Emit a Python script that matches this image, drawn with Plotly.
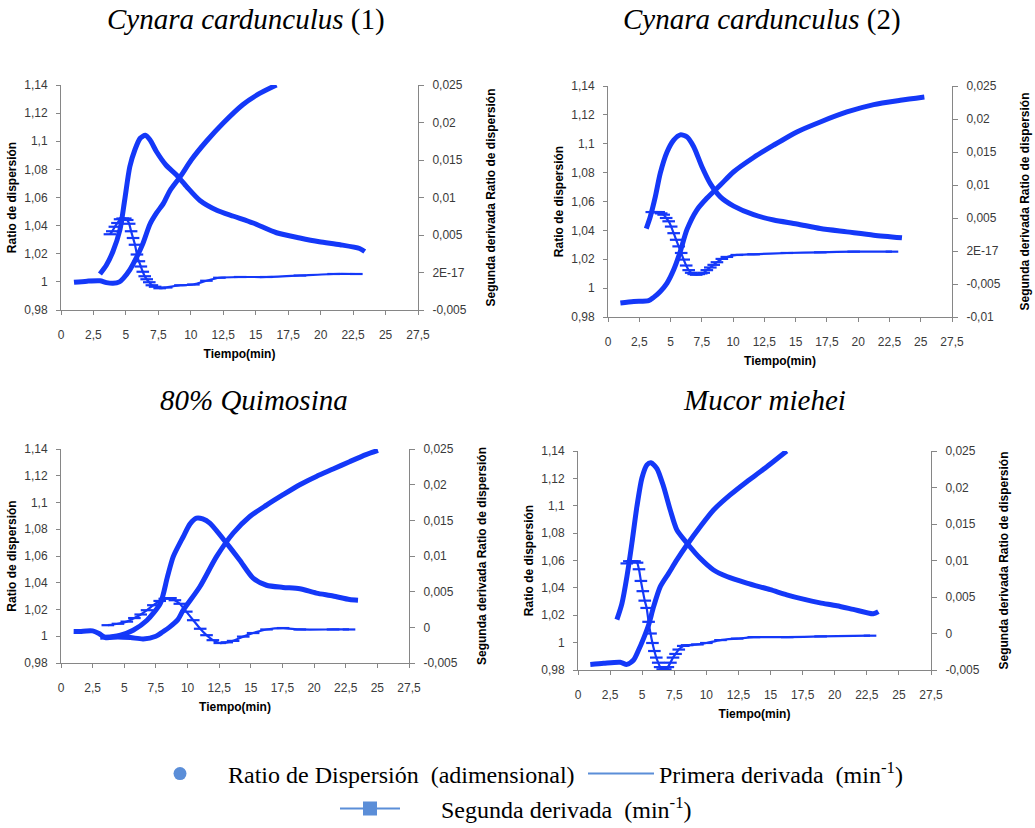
import plotly.graph_objects as go

W, H = 1035, 828

# ---------------- tick labels ----------------
X_TICKS = [0, 2.5, 5, 7.5, 10, 12.5, 15, 17.5, 20, 22.5, 25, 27.5]
X_TICKTEXT = ["0", "2,5", "5", "7,5", "10", "12,5", "15", "17,5", "20", "22,5", "25", "27,5"]
LEFT_TICKS = [0.98, 1.0, 1.02, 1.04, 1.06, 1.08, 1.1, 1.12, 1.14]
LEFT_TICKTEXT = ["0,98", "1", "1,02", "1,04", "1,06", "1,08", "1,1", "1,12", "1,14"]
RIGHT_TICKS_A = [-0.005, 0, 0.005, 0.01, 0.015, 0.02, 0.025]
RIGHT_TICKS_B = [-0.01, -0.005, 0, 0.005, 0.01, 0.015, 0.02, 0.025]
RIGHT_TICKTEXT_P1 = ["-0,005", "2E-17", "0,005", "0,01", "0,015", "0,02", "0,025"]
RIGHT_TICKTEXT_P2 = ["-0,01", "-0,005", "2E-17", "0,005", "0,01", "0,015", "0,02", "0,025"]
RIGHT_TICKTEXT_P34 = ["-0,005", "0", "0,005", "0,01", "0,015", "0,02", "0,025"]

PANEL_TITLES = ["<i>Cynara cardunculus</i> (1)", "<i>Cynara cardunculus</i> (2)",
                "<i>80% Quimosina</i>", "<i>Mucor miehei</i>"]

# ---------------- Panel 1: Cynara cardunculus (1) ----------------
p1_ratio_t = [1.0, 2.0, 3.0, 3.5, 4.0, 4.5, 4.8, 5.3, 5.8, 6.3, 6.85, 7.36, 7.9, 8.4, 9.2, 10.06, 11.2, 12.5, 14.0, 15.3, 16.6]
p1_ratio = [0.9997, 1.0005, 1.0008, 0.9995, 0.999, 1.0, 1.0025, 1.0085, 1.017, 1.027, 1.041, 1.049, 1.056, 1.065, 1.075, 1.087, 1.1, 1.113, 1.126, 1.134, 1.14]
p1_d1_t = [3.0, 3.5, 4.0, 4.54, 4.9, 5.3, 5.7, 6.1, 6.5, 6.85, 7.36, 8.1, 8.9, 9.7, 10.7, 12.0, 13.3, 14.8, 16.6, 18.4, 19.9, 21.5, 23.0, 23.4]
p1_d1 = [-0.0002, 0.001, 0.0028, 0.0057, 0.0096, 0.0141, 0.0164, 0.0179, 0.0183, 0.0177, 0.0161, 0.0143, 0.013, 0.0114, 0.0096, 0.0083, 0.0075, 0.0066, 0.0053, 0.0046, 0.0041, 0.0037, 0.0032, 0.0028]
p1_d2_t = [3.77, 3.95, 4.15, 4.35, 4.55, 4.75, 4.95, 5.1, 5.25, 5.4, 5.55, 5.7, 5.85, 6.0, 6.15, 6.3, 6.45, 6.6, 6.8, 7.0, 7.25, 7.6, 8.1, 9.2, 10.2, 11.2, 12.2, 13.8, 15.8, 18.4, 21.0, 22.75]
p1_d2 = [0.0051, 0.0055, 0.0061, 0.0066, 0.0071, 0.0072, 0.0072, 0.007, 0.0065, 0.0055, 0.0046, 0.0037, 0.0024, 0.0015, 0.0008, 0.0001, -0.0005, -0.0009, -0.0013, -0.0017, -0.0019, -0.0021, -0.002, -0.0017, -0.0016, -0.0011, -0.0007, -0.0006, -0.0006, -0.0004, -0.0002, -0.0002]

# ---------------- Panel 2: Cynara cardunculus (2) ----------------
p2_ratio_t = [0.99, 2.05, 3.25, 3.65, 4.18, 4.72, 5.25, 5.78, 6.3, 7.1, 7.9, 8.98, 10.05, 11.64, 13.24, 15.1, 16.97, 19.1, 21.24, 23.37, 25.29]
p2_ratio = [0.9897, 0.9908, 0.9913, 0.9936, 0.9977, 1.0035, 1.0127, 1.0254, 1.0403, 1.0541, 1.0622, 1.0714, 1.0806, 1.0905, 1.099, 1.1082, 1.1151, 1.122, 1.1271, 1.1301, 1.1324]
p2_d1_t = [3.06, 3.38, 3.78, 4.18, 4.72, 5.25, 5.78, 6.3, 6.85, 7.5, 8.18, 8.98, 10.05, 11.64, 13.24, 15.1, 16.97, 19.1, 21.24, 23.5]
p2_d1 = [0.0034, 0.0052, 0.0082, 0.0118, 0.015, 0.0168, 0.0176, 0.0173, 0.0158, 0.0128, 0.0102, 0.0082, 0.0068, 0.0055, 0.0047, 0.0041, 0.0034, 0.0029, 0.0024, 0.002]
p2_d2_t = [3.5, 3.8, 4.05, 4.25, 4.45, 4.65, 4.85, 5.05, 5.25, 5.45, 5.65, 5.85, 6.05, 6.25, 6.45, 6.65, 6.85, 7.05, 7.25, 7.45, 7.65, 7.9, 8.18, 8.45, 8.71, 9.1, 9.5, 10.3, 11.64, 14.3, 16.97, 19.64, 22.7]
p2_d2 = [0.0059, 0.0059, 0.0059, 0.0057, 0.0055, 0.005, 0.0045, 0.0037, 0.0027, 0.0017, 0.0007, -0.0003, -0.0013, -0.0022, -0.0029, -0.0033, -0.0035, -0.0036, -0.0035, -0.0034, -0.0033, -0.0029, -0.0025, -0.0021, -0.0017, -0.0012, -0.0009, -0.0006, -0.0005, -0.0003, -0.0002, -0.0001, -0.0001]

# ---------------- Panel 3: 80% Quimosina ----------------
p3_ratio_t = [1.0, 1.5, 2.0, 2.5, 3.0, 3.5, 4.5, 5.5, 6.5, 7.5, 8.0, 8.6, 9.2, 9.66, 10.97, 12.29, 13.6, 14.92, 16.24, 17.55, 18.87, 20.18, 21.5, 22.8, 24.1, 25.05]
p3_ratio = [1.0035, 1.0035, 1.004, 1.004, 1.002, 0.999, 0.9995, 0.999, 0.998, 1.0, 1.003, 1.007, 1.012, 1.0195, 1.037, 1.0595, 1.077, 1.0895, 1.098, 1.1058, 1.1133, 1.1195, 1.125, 1.1305, 1.1358, 1.139]
p3_d1_t = [3.1, 4.0, 4.7, 5.7, 6.8, 7.86, 8.4, 8.87, 9.66, 10.2, 10.71, 11.2, 11.76, 13.08, 14.13, 15.18, 16.24, 17.55, 18.87, 20.18, 21.5, 22.8, 23.47]
p3_d1 = [-0.0014, -0.0013, -0.0011, -0.0004, 0.001, 0.0034, 0.007, 0.0099, 0.0127, 0.0145, 0.0153, 0.0152, 0.0146, 0.0118, 0.0094, 0.0069, 0.0059, 0.0056, 0.0054, 0.0048, 0.0044, 0.0039, 0.0038]
p3_d2_t = [3.7, 4.5, 5.2, 5.8, 6.3, 6.8, 7.3, 7.8, 8.2, 8.65, 9.0, 9.39, 9.9, 10.45, 11.0, 11.5, 12.0, 12.55, 13.1, 13.6, 14.4, 15.18, 16.24, 17.55, 18.87, 21.5, 22.76]
p3_d2 = [0.0003, 0.0005, 0.0008, 0.0013, 0.0018, 0.0024, 0.0031, 0.0037, 0.004, 0.0041, 0.0038, 0.0033, 0.0022, 0.001, -0.0002, -0.0011, -0.0018, -0.0022, -0.0021, -0.0019, -0.0013, -0.0008, -0.0003, -0.0001, -0.0003, -0.0003, -0.0003]

# ---------------- Panel 4: Mucor miehei ----------------
p4_ratio_t = [0.96, 2.0, 3.29, 3.81, 4.33, 4.72, 5.11, 5.5, 5.89, 6.41, 7.06, 7.7, 8.48, 9.52, 10.56, 11.85, 13.15, 14.45, 16.26]
p4_ratio = [0.9841, 0.9849, 0.9856, 0.9841, 0.9873, 0.9946, 1.0031, 1.0129, 1.0263, 1.0409, 1.0506, 1.0604, 1.0713, 1.0847, 1.0969, 1.1079, 1.1176, 1.1266, 1.14]
p4_d1_t = [3.03, 3.42, 3.81, 4.2, 4.59, 4.98, 5.37, 5.68, 6.15, 6.67, 7.19, 7.7, 8.48, 9.52, 10.56, 11.6, 13.15, 14.97, 16.26, 17.56, 18.86, 20.16, 21.45, 23.0, 23.4]
p4_d1 = [0.0019, 0.0041, 0.0078, 0.0124, 0.0174, 0.0213, 0.0231, 0.0234, 0.0226, 0.0201, 0.0169, 0.0142, 0.0124, 0.0103, 0.0087, 0.0078, 0.0069, 0.006, 0.0053, 0.0047, 0.0042, 0.0038, 0.0033, 0.0027, 0.003]
p4_d2_t = [3.8, 4.0, 4.2, 4.4, 4.6, 4.75, 4.9, 5.05, 5.2, 5.35, 5.5, 5.65, 5.8, 5.95, 6.1, 6.25, 6.4, 6.6, 6.8, 7.0, 7.2, 7.4, 7.6, 7.85, 8.2, 8.5, 9.3, 10.0, 11.1, 12.4, 13.7, 16.3, 18.9, 22.75]
p4_d2 = [0.0096, 0.0099, 0.0099, 0.0099, 0.0097, 0.0088, 0.0072, 0.0058, 0.0045, 0.0035, 0.0016, 0.0, -0.0013, -0.0024, -0.0033, -0.004, -0.0046, -0.0049, -0.0049, -0.0046, -0.004, -0.0033, -0.0028, -0.0022, -0.0017, -0.0016, -0.0015, -0.0013, -0.0009, -0.0007, -0.0005, -0.0005, -0.0004, -0.0003]

LEGEND_NAMES = ["Ratio de Dispersión \u00a0(adimensional)",
                "Primera derivada \u00a0(min<sup>-1</sup>)",
                "\u00a0\u00a0\u00a0\u00a0\u00a0\u00a0Segunda derivada \u00a0(min<sup>-1</sup>)"]

panels = [
    dict(ratio=(p1_ratio_t, p1_ratio), d1=(p1_d1_t, p1_d1), d2=(p1_d2_t, p1_d2),
         rrange=[-0.005, 0.025], rticks=RIGHT_TICKS_A, rtext=RIGHT_TICKTEXT_P1),
    dict(ratio=(p2_ratio_t, p2_ratio), d1=(p2_d1_t, p2_d1), d2=(p2_d2_t, p2_d2),
         rrange=[-0.01, 0.025], rticks=RIGHT_TICKS_B, rtext=RIGHT_TICKTEXT_P2),
    dict(ratio=(p3_ratio_t, p3_ratio), d1=(p3_d1_t, p3_d1), d2=(p3_d2_t, p3_d2),
         rrange=[-0.005, 0.025], rticks=RIGHT_TICKS_A, rtext=RIGHT_TICKTEXT_P34),
    dict(ratio=(p4_ratio_t, p4_ratio), d1=(p4_d1_t, p4_d1), d2=(p4_d2_t, p4_d2),
         rrange=[-0.005, 0.025], rticks=RIGHT_TICKS_A, rtext=RIGHT_TICKTEXT_P34),
]

# pixel boxes of the plot areas: (left, right, top, bottom)
boxes = [(61, 418, 85, 310), (608, 952, 86, 317), (61, 409, 449, 663), (578, 931, 451, 670)]
title_pos = [(246, 20), (762, 20), (254, 400), (764, 400)]

BLUE = "#1438F8"
LEG_BLUE = "#5B8ED8"
AXIS_GREY = "#868686"
TICK_FONT = dict(family="Liberation Sans, Arial, sans-serif", size=12, color="#3a3a3a")
TITLE_FONT = dict(family="Liberation Sans, Arial, sans-serif", size=12, color="#000000")

fig = go.Figure()
layout = dict(width=W, height=H, margin=dict(l=0, r=0, t=0, b=0, autoexpand=False),
              paper_bgcolor="white", plot_bgcolor="white", annotations=[])

for i, p in enumerate(panels):
    k = i + 1
    xa = f"x{k}" if k > 1 else "x"
    yl_n = 2 * i + 1
    yr_n = 2 * i + 2
    yl = f"y{yl_n}" if yl_n > 1 else "y"
    yr = f"y{yr_n}"
    l, r, t, b = boxes[i]
    xdom = [l / W, r / W]
    ydom = [1 - b / H, 1 - t / H]

    fig.add_trace(go.Scatter(x=p["ratio"][0], y=p["ratio"][1], xaxis=xa, yaxis=yl,
                             mode="lines", line=dict(color=BLUE, width=5, shape="spline", smoothing=0.7),
                             showlegend=False, hoverinfo="skip"))
    fig.add_trace(go.Scatter(x=p["d1"][0], y=p["d1"][1], xaxis=xa, yaxis=yr,
                             mode="lines", line=dict(color=BLUE, width=5, shape="spline", smoothing=0.7),
                             showlegend=False, hoverinfo="skip"))
    fig.add_trace(go.Scatter(x=p["d2"][0], y=p["d2"][1], xaxis=xa, yaxis=yr,
                             mode="lines+markers", line=dict(color=BLUE, width=2.2, shape="spline", smoothing=0.6),
                             marker=dict(symbol="line-ew", size=9, line=dict(color=BLUE, width=2.2)),
                             showlegend=False, hoverinfo="skip", cliponaxis=False))

    axkey = "xaxis" if k == 1 else f"xaxis{k}"
    layout[axkey] = dict(domain=xdom, anchor=yl, range=[0, 27.5], tickvals=X_TICKS, ticktext=X_TICKTEXT,
                         showline=True, linecolor=AXIS_GREY, linewidth=1, ticks="outside", ticklen=4,
                         tickcolor=AXIS_GREY, showgrid=False, zeroline=False, tickfont=TICK_FONT,
                         ticklabelstandoff=10,
                         title=dict(text="<b>Tiempo(min)</b>", font=TITLE_FONT, standoff=8))
    ylkey = "yaxis" if yl_n == 1 else f"yaxis{yl_n}"
    layout[ylkey] = dict(domain=ydom, anchor=xa, range=[0.98, 1.14], tickvals=LEFT_TICKS,
                         ticktext=LEFT_TICKTEXT, showline=True, linecolor=AXIS_GREY, linewidth=1,
                         ticks="outside", ticklen=4, tickcolor=AXIS_GREY, showgrid=False, zeroline=False,
                         tickfont=TICK_FONT, ticklabelstandoff=6,
                         title=dict(text="<b>Ratio de dispersión</b>", font=TITLE_FONT, standoff=5))
    layout[f"yaxis{yr_n}"] = dict(domain=ydom, anchor=xa, overlaying=yl, side="right", range=p["rrange"],
                                  tickvals=p["rticks"], ticktext=p["rtext"], showline=True,
                                  linecolor=AXIS_GREY, linewidth=1, ticks="outside", ticklen=5,
                                  tickcolor=AXIS_GREY, showgrid=False, zeroline=False, tickfont=TICK_FONT,
                                  ticklabelstandoff=6,
                                  title=dict(text="<b>Segunda derivada Ratio de dispersión</b>",
                                             font=TITLE_FONT, standoff=20))
    tx, ty = title_pos[i]
    layout["annotations"].append(dict(text=PANEL_TITLES[i], x=tx / W, y=1 - ty / H, xref="paper", yref="paper",
                                      xanchor="center", yanchor="middle", showarrow=False,
                                      font=dict(family="Liberation Serif, Times New Roman, serif", size=29,
                                                color="black")))

# legend-only entries
fig.add_trace(go.Scatter(x=[None], y=[None], mode="markers", name=LEGEND_NAMES[0],
                         marker=dict(symbol="circle", size=13, color=LEG_BLUE), legend="legend"))
fig.add_trace(go.Scatter(x=[None], y=[None], mode="lines", name=LEGEND_NAMES[1],
                         line=dict(color=LEG_BLUE, width=2), legend="legend2"))
fig.add_trace(go.Scatter(x=[None], y=[None], mode="lines+markers", name=LEGEND_NAMES[2],
                         line=dict(color=LEG_BLUE, width=2), marker=dict(symbol="square", size=14, color=LEG_BLUE),
                         legend="legend3"))

LEG_FONT = dict(family="Liberation Serif, Times New Roman, serif", size=24, color="black")
common = dict(orientation="h", xanchor="left", yanchor="middle", font=LEG_FONT, bgcolor="rgba(0,0,0,0)")
layout["legend"] = dict(common, x=132 / W, y=1 - 774 / H, itemwidth=86)
layout["legend2"] = dict(common, x=583 / W, y=1 - 774 / H, itemwidth=66)
layout["legend3"] = dict(common, x=335 / W, y=1 - 809 / H, itemwidth=60)

fig.update_layout(**layout)
fig.write_html("out.html", config={"displayModeBar": False},
               post_script="document.documentElement.style.overflow='hidden';"
                           "document.body.style.margin='0';document.body.style.overflow='hidden';")
